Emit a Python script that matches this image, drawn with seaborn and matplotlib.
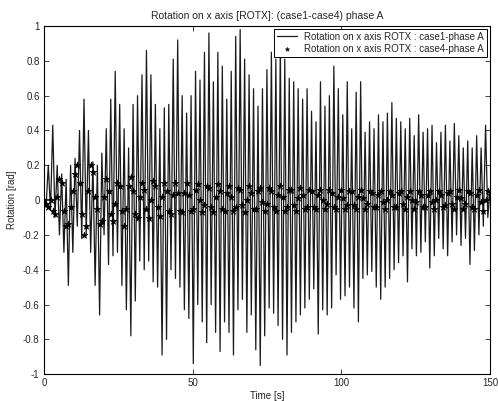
"""
Rotation on x axis (ROTX), case1 vs case4, phase A.
Values read off a scanned MATLAB figure, sampled every 0.75 s.
"""

import numpy as np
import pandas as pd
import matplotlib
matplotlib.use("Agg")
import matplotlib.pyplot as plt
import seaborn as sns

# time vector of the simulation output (s)
time_step = 0.75
time_end = 150.0

# case1: large oscillation, one value per half cycle
rot_case1 = [
    0.02, -0.04, 0.20, -0.06, 0.43, -0.10, 0.20, -0.20, 0.15, -0.30,
    0.12, -0.49, 0.20, -0.30, 0.24, -0.15, 0.40, -0.22, 0.58, -0.20,
    0.40, -0.30, 0.22, -0.49, 0.20, -0.66, 0.27, -0.20, 0.41, -0.37,
    0.58, -0.32, 0.74, -0.30, 0.55, -0.49, 0.41, -0.63, 0.30, -0.78,
    0.55, -0.58, 0.60, -0.35, 0.72, -0.40, 0.86, -0.35, 0.72, -0.47,
    0.55, -0.50, 0.41, -0.89, 0.53, -0.80, 0.55, -0.40, 0.81, -0.45,
    0.92, -0.50, 0.60, -0.63, 0.50, -0.68, 0.60, -0.94, 0.74, -0.60,
    0.69, -0.70, 0.85, -0.82, 0.96, -0.60, 0.68, -0.76, 0.85, -0.87,
    0.77, -0.70, 0.58, -0.76, 0.74, -0.89, 0.94, -0.63, 0.98, -0.57,
    0.81, -0.76, 0.72, -0.66, 0.64, -0.86, 0.54, -0.95, 0.64, -0.78,
    0.75, -0.62, 0.85, -0.65, 0.81, -0.72, 0.90, -0.80, 0.81, -0.89,
    0.70, -0.76, 0.68, -0.70, 0.64, -0.66, 0.58, -0.62, 0.64, -0.57,
    0.51, -0.51, 0.45, -0.77, 0.68, -0.63, 0.54, -0.66, 0.60, -0.62,
    0.77, -0.43, 0.64, -0.57, 0.49, -0.55, 0.68, -0.50, 0.41, -0.62,
    0.62, -0.70, 0.68, -0.45, 0.39, -0.43, 0.45, -0.41, 0.41, -0.50,
    0.49, -0.57, 0.45, -0.50, 0.50, -0.45, 0.56, -0.40, 0.47, -0.36,
    0.45, -0.32, 0.41, -0.47, 0.47, -0.28, 0.37, -0.32, 0.49, -0.30,
    0.39, -0.24, 0.41, -0.39, 0.43, -0.32, 0.33, -0.22, 0.39, -0.28,
    0.43, -0.32, 0.34, -0.24, 0.44, -0.20, 0.37, -0.26, 0.30, -0.22,
    0.34, -0.37, 0.30, -0.29, 0.37, -0.20, 0.30, -0.15, 0.43, -0.10,
    0.05,
]

# case4: small oscillation drawn with '*' markers
rot_case4 = [
    0.00, -0.02, -0.04, 0.00, -0.06, -0.08, 0.02, 0.12, 0.10, -0.06,
    -0.15, -0.14, -0.04, 0.05, 0.15, 0.20, 0.10, -0.08, -0.20, -0.15,
    0.05, 0.20, 0.16, 0.02, -0.05, -0.14, -0.12, 0.02, 0.12, 0.05,
    -0.08, -0.12, -0.02, 0.10, 0.08, -0.06, -0.15, -0.05, 0.08, 0.13,
    0.05, -0.08, -0.10, 0.02, 0.10, 0.06, -0.05, -0.10, 0.00, 0.11,
    0.08, -0.04, -0.09, 0.02, 0.10, 0.05, -0.06, -0.08, 0.03, 0.10,
    0.04, -0.06, -0.07, 0.04, 0.10, 0.03, -0.06, -0.05, 0.06, 0.09,
    0.00, -0.07, -0.03, 0.08, 0.07, -0.04, -0.07, 0.02, 0.09, 0.05,
    -0.05, -0.06, 0.04, 0.08, 0.02, -0.06, -0.04, 0.07, 0.06, -0.03,
    -0.07, 0.00, 0.08, 0.04, -0.05, -0.05, 0.05, 0.07, -0.01, -0.06,
    -0.02, 0.07, 0.05, -0.04, -0.06, 0.03, 0.08, 0.02, -0.06, -0.04,
    0.06, 0.06, -0.03, -0.06, 0.01, 0.07, 0.03, -0.05, -0.04, 0.06,
    0.05, -0.04, -0.05, 0.03, 0.06, 0.00, -0.05, -0.02, 0.06, 0.04,
    -0.04, -0.05, 0.02, 0.06, 0.01, -0.05, -0.03, 0.05, 0.05, -0.03,
    -0.05, 0.02, 0.06, 0.01, -0.05, -0.02, 0.05, 0.04, -0.04, -0.04,
    0.03, 0.05, -0.01, -0.05, 0.00, 0.05, 0.03, -0.04, -0.04, 0.04,
    0.05, -0.02, -0.05, 0.02, 0.05, 0.00, -0.05, -0.01, 0.05, 0.03,
    -0.04, -0.04, 0.03, 0.05, -0.01, -0.05, 0.00, 0.05, 0.03, -0.04,
    -0.03, 0.04, 0.05, -0.02, -0.05, 0.02, 0.06, 0.01, -0.05, -0.02,
    0.05, 0.04, -0.04, -0.05, 0.03, 0.06, -0.01, -0.06, 0.00, 0.05,
    0.03,
]

x_ticks = [0, 50, 100, 150]
y_ticks = [-1, -0.8, -0.6, -0.4, -0.2, 0, 0.2, 0.4, 0.6, 0.8, 1]
y_tick_labels = ["-1", "-0.8", "-0.6", "-0.4", "-0.2", "0",
                 "0.2", "0.4", "0.6", "0.8", "1"]

label_case1 = "Rotation on x axis ROTX : case1-phase A"
label_case4 = "Rotation on x axis ROTX : case4-phase A"


def main():
    sns.set_style("ticks")
    plt.rcParams["font.family"] = ["Liberation Sans", "DejaVu Sans"]

    time = np.arange(len(rot_case1)) * time_step
    df = pd.DataFrame({"time": time, "case1": rot_case1, "case4": rot_case4})

    fig = plt.figure(figsize=(4.98, 4.01), dpi=100)
    ax = fig.add_axes([0.088, 0.067, 0.896, 0.868])

    sns.lineplot(data=df, x="time", y="case1", ax=ax, color="#1a1a1a",
                 linewidth=0.9, sort=False, estimator=None, label=label_case1)
    sns.scatterplot(data=df, x="time", y="case4", ax=ax, color="black",
                    marker="*", s=26, linewidth=0.4, edgecolor="black",
                    label=label_case4, zorder=3)

    ax.set_xlim(0, time_end)
    ax.set_ylim(-1, 1)
    ax.set_xticks(x_ticks)
    ax.set_yticks(y_ticks)
    ax.set_yticklabels(y_tick_labels)
    ax.tick_params(direction="in", length=3.5, width=0.6, labelsize=7,
                   top=True, right=True, pad=3)
    for side in ax.spines.values():
        side.set_linewidth(0.8)
        side.set_color("black")

    ax.set_title("Rotation on x axis [ROTX]: (case1-case4) phase A",
                 fontsize=7.5, pad=5)
    ax.set_xlabel("Time [s]", fontsize=7, labelpad=2)
    ax.set_ylabel("Rotation [rad]", fontsize=7, labelpad=4)

    leg = ax.legend(loc="upper right", fontsize=7, frameon=True,
                    fancybox=False, edgecolor="black", framealpha=1,
                    borderaxespad=0.3, handlelength=2.0, borderpad=0.3,
                    labelspacing=0.2, markerscale=0.6)
    leg.get_frame().set_linewidth(0.7)

    fig.savefig("out.png", dpi=100)
    plt.close(fig)


if __name__ == "__main__":
    main()
